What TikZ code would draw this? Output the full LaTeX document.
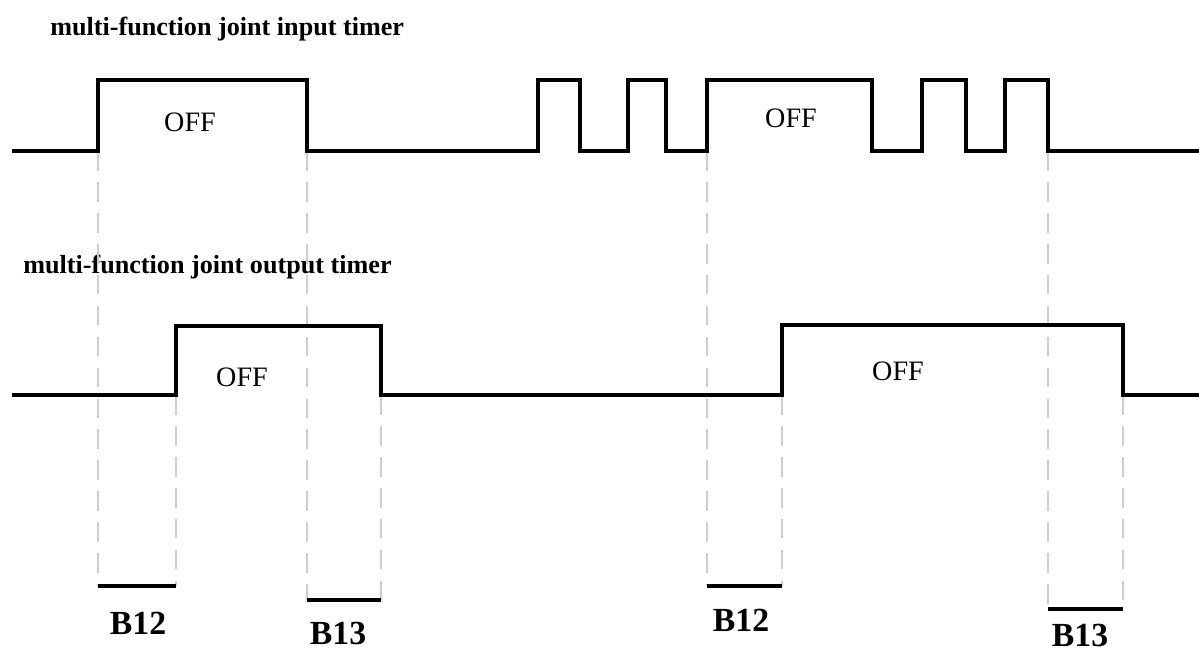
\documentclass[tikz,border=0pt]{standalone}
\usepackage{fontspec}
\setmainfont{Liberation Serif}
\usetikzlibrary{positioning}
\definecolor{guidegray}{RGB}{205,205,205}

\begin{document}
\begin{tikzpicture}[x=0.025cm, y=-0.025cm,
    wave/.style={line width=2.8pt, line join=miter},
    guide/.style={guidegray, line width=0.9pt, dash pattern=on 14pt off 8pt},
    interval/.style={line width=2.4pt},
    headtxt/.style={font=\bfseries\fontsize{18.6}{22}\selectfont, anchor=base west, inner sep=0pt},
    offtxt/.style={font=\fontsize{20}{24}\selectfont, inner sep=0pt},
    btxt/.style={font=\bfseries\fontsize{24}{28}\selectfont, inner sep=0pt}]
    \useasboundingbox (0,0) rectangle (1199,654);

    % titles
    \node[headtxt] (intitle) at (50,35) {multi-function joint input timer};
    \node[headtxt] (outtitle) at (23,273) {multi-function joint output timer};

    % edges of the two signals
    \coordinate (in1) at (98,151);
    \coordinate (in2) at (307,151);
    \coordinate (in3) at (707,151);
    \coordinate (in4) at (1048,151);
    \coordinate (out1) at (176,395);
    \coordinate (out2) at (381,395);
    \coordinate (out3) at (782,395);
    \coordinate (out4) at (1123,395);

    % ends of the time spans
    \coordinate (ba1) at (98,586);   \coordinate (bb1) at (176,586);
    \coordinate (ba2) at (307,600);  \coordinate (bb2) at (381,600);
    \coordinate (ba3) at (707,586);  \coordinate (bb3) at (782,586);
    \coordinate (ba4) at (1048,609); \coordinate (bb4) at (1123,609);

    % dashed guides
    \draw[guide] (in1) -- (ba1);
    \draw[guide] (out1) -- (bb1);
    \draw[guide] (in2) -- (ba2);
    \draw[guide] (out2) -- (bb2);
    \draw[guide] (in3) -- (ba3);
    \draw[guide] (out3) -- (bb3);
    \draw[guide] (in4) -- (ba4);
    \draw[guide] (out4) -- (bb4);

    % input timer
    \draw[wave] (12,151) -- (in1) -- (98,80) -- (307,80) -- (in2) -- (538,151) -- (538,80) -- (580,80)
        -- (580,151) -- (628,151) -- (628,80) -- (666,80) -- (666,151) -- (in3) -- (707,80)
        -- (872,80) -- (872,151) -- (922,151) -- (922,80) -- (966,80) -- (966,151) -- (1005,151)
        -- (1005,80) -- (1048,80) -- (in4) -- (1199,151);
    \node[offtxt] (off1) at (190,122) {OFF};
    \node[offtxt] (off2) at (791,118) {OFF};

    % output timer
    \draw[wave] (12,395) -- (out1) -- (176,326) -- (381,326) -- (out2) -- (out3) -- (782,325)
        -- (1123,325) -- (out4) -- (1199,395);
    \node[offtxt] (off3) at (242,377) {OFF};
    \node[offtxt] (off4) at (898,371) {OFF};

    % time spans
    \draw[interval] (ba1) -- (bb1);
    \draw[interval] (ba2) -- (bb2);
    \draw[interval] (ba3) -- (bb3);
    \draw[interval] (ba4) -- (bb4);
    \node[btxt] (b12a) at (138,623) {B12};
    \node[btxt] (b13a) at (338,633) {B13};
    \node[btxt] (b12b) at (741,620) {B12};
    \node[btxt] (b13b) at (1080,635) {B13};
\end{tikzpicture}
\end{document}
